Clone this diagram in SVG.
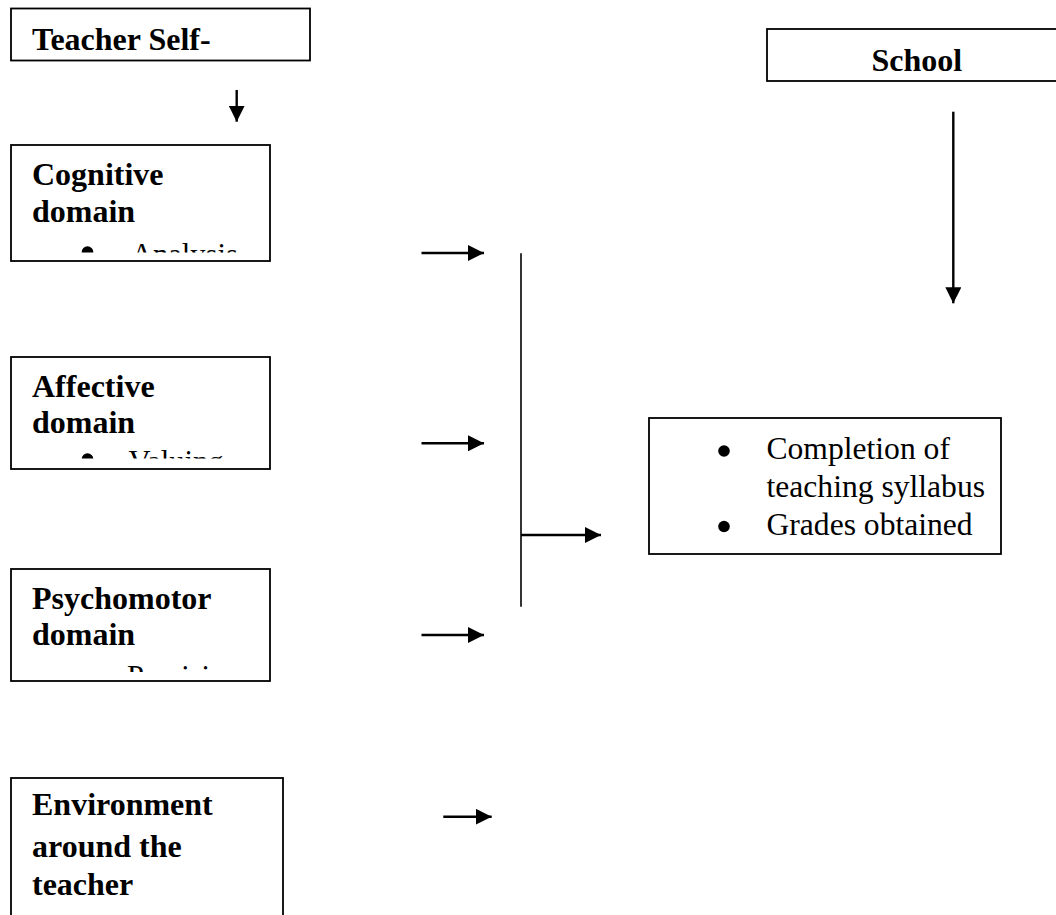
<svg xmlns="http://www.w3.org/2000/svg" width="1056" height="915" viewBox="0 0 1056 915">
<style>
.box{fill:#fff;stroke:#000;stroke-width:1.8}
.b{font-family:"Liberation Serif","Times New Roman",serif;font-weight:bold;font-size:32px;fill:#000}
.r{font-family:"Liberation Serif","Times New Roman",serif;font-size:31.6px;fill:#000}
.rs{font-family:"Liberation Serif","Times New Roman",serif;font-size:30.5px;fill:#000}
.ln{stroke:#000;stroke-width:2.4;fill:none}
.bar{stroke:#000;stroke-width:1.6;fill:none}
</style>
<defs>
<marker id="ah" markerUnits="userSpaceOnUse" markerWidth="16" markerHeight="16" refX="16" refY="8" orient="auto" viewBox="0 0 16 16">
<path d="M0,0 L16,8 L0,16 z" fill="#000"/>
</marker>
<clipPath id="c1"><rect x="12" y="146" width="257" height="106.5"/></clipPath>
<clipPath id="c2"><rect x="12" y="358" width="257" height="100.5"/></clipPath>
<clipPath id="c3"><rect x="12" y="570" width="257" height="102"/></clipPath>
</defs>

<g id="teacher-self">
<rect class="box" x="11" y="8.5" width="299" height="52"/>
<text class="b" x="32" y="49.5">Teacher Self-</text>
</g>

<g id="school">
<rect class="box" x="767" y="29" width="400" height="52"/>
<text class="b" x="871.5" y="70.5">School</text>
</g>

<g id="cognitive">
<rect class="box" x="11" y="145" width="259" height="116"/>
<text class="b" x="32" y="185">Cognitive</text>
<text class="b" x="32" y="221.5">domain</text>
<g clip-path="url(#c1)">
<circle cx="87.5" cy="252" r="5.8" fill="#000"/>
<text class="rs" x="131" y="265">Analysis</text>
</g>
</g>

<g id="affective">
<rect class="box" x="11" y="357" width="259" height="112"/>
<text class="b" x="32" y="396.5">Affective</text>
<text class="b" x="32" y="433">domain</text>
<g clip-path="url(#c2)">
<circle cx="87.5" cy="459" r="5.8" fill="#000"/>
<text class="rs" x="128.5" y="471.5">Valuing</text>
</g>
</g>

<g id="psychomotor">
<rect class="box" x="11" y="569" width="259" height="112"/>
<text class="b" x="32" y="608.5">Psychomotor</text>
<text class="b" x="32" y="645">domain</text>
<g clip-path="url(#c3)">
<text class="rs" x="127" y="687">Precision</text>
</g>
</g>

<g id="environment">
<rect class="box" x="11" y="778" width="272" height="200"/>
<text class="b" x="32" y="815">Environment</text>
<text class="b" x="32" y="856.5">around the</text>
<text class="b" x="32" y="895">teacher</text>
</g>

<g id="outcomes">
<rect class="box" x="649" y="418" width="352" height="136"/>
<circle cx="724" cy="451" r="5.8" fill="#000"/>
<text class="r" x="766.5" y="459">Completion of</text>
<text class="r" x="766.5" y="496.5">teaching syllabus</text>
<circle cx="724" cy="526.5" r="5.8" fill="#000"/>
<text class="r" x="766.5" y="534.5">Grades obtained</text>
</g>

<g id="connectors">
<line class="ln" x1="236.7" y1="90" x2="236.7" y2="121.7" marker-end="url(#ah)"/>
<line class="ln" x1="953.3" y1="111.7" x2="953.3" y2="303.3" marker-end="url(#ah)"/>
<line class="ln" x1="421.5" y1="253" x2="484" y2="253" marker-end="url(#ah)"/>
<line class="ln" x1="421.5" y1="443.3" x2="484" y2="443.3" marker-end="url(#ah)"/>
<line class="ln" x1="421.5" y1="635" x2="484" y2="635" marker-end="url(#ah)"/>
<line class="ln" x1="443.3" y1="816.7" x2="491.7" y2="816.7" marker-end="url(#ah)"/>
<line class="bar" x1="521" y1="253.3" x2="521" y2="606.7"/>
<line class="ln" x1="521" y1="535" x2="601" y2="535" marker-end="url(#ah)"/>
</g>
</svg>
